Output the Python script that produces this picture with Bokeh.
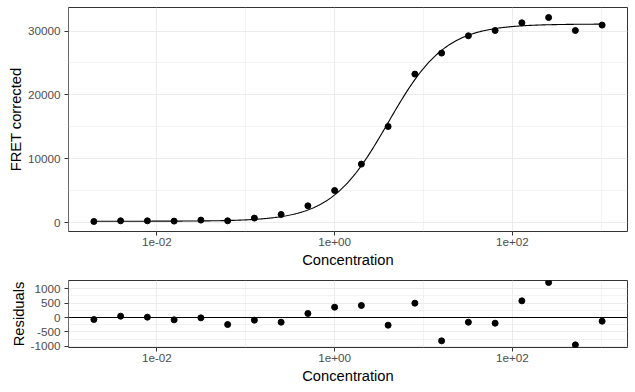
import numpy as np
from bokeh.plotting import figure
from bokeh.layouts import column
from bokeh.models import Range1d, FixedTicker, Span
from bokeh.embed import file_html
from bokeh.resources import INLINE

# ---- data ----
concentration = [0.001953125, 0.00390625, 0.0078125, 0.015625, 0.03125, 0.0625,
                 0.125, 0.25, 0.5, 1.0, 2.0, 4.0, 8.0, 16.0, 32.0, 64.0,
                 128.0, 256.0, 512.0, 1024.0]
fret_corrected = [157, 266, 266, 219, 376, 266, 689, 1254, 2617, 5014, 9151,
                  15043, 23254, 26545, 29255, 30086, 31292, 32123, 30086, 30933]
residuals = [-70, 47, 12, -81, -12, -244, -93, -163, 140, 360, 419, -267, 500,
             -814, -163, -198, 581, 1221, -953, -128]

# four-parameter logistic fit (estimated)
fit_bottom = 200.0
fit_top = 31100.0
fit_ec50 = 4.0
fit_hill = 1.35

x_ticks = [0.01, 1.0, 100.0]
x_tick_labels = ["1e-02", "1e+00", "1e+02"]
x_minor = [0.001, 0.1, 10.0, 1000.0]
top_y_ticks = [0, 10000, 20000, 30000]
top_y_tick_labels = ["0", "10000", "20000", "30000"]
top_y_minor = [5000, 15000, 25000]
res_y_ticks = [-1000, -500, 0, 500, 1000]
res_y_tick_labels = ["-1000", "-500", "0", "500", "1000"]
res_y_minor = [-750, -250, 250, 750]

FONT = "Liberation Sans"

curve_x = np.geomspace(min(concentration), max(concentration), 400)
curve_y = fit_bottom + (fit_top - fit_bottom) / (1.0 + (fit_ec50 / curve_x) ** fit_hill)


def style(p, yt, ytl, ym):
    xt = FixedTicker(ticks=x_ticks, minor_ticks=x_minor)
    yk = FixedTicker(ticks=yt, minor_ticks=ym)
    p.xaxis.ticker = xt
    p.xgrid.ticker = xt
    p.yaxis.ticker = yk
    p.ygrid.ticker = yk
    p.xaxis.major_label_overrides = dict(zip(x_ticks, x_tick_labels))
    p.yaxis.major_label_overrides = dict(zip(yt, ytl))
    for ax in p.axis:
        ax.axis_line_color = None
        ax.major_tick_line_color = "#333333"
        ax.major_tick_line_width = 1
        ax.major_tick_out = 4
        ax.major_tick_in = 0
        ax.minor_tick_line_color = None
        ax.major_label_text_font = FONT
        ax.major_label_text_font_size = "11.7px"
        ax.major_label_text_color = "#4D4D4D"
        ax.axis_label_text_font = FONT
        ax.axis_label_text_font_size = "14.7px"
        ax.axis_label_text_font_style = "normal"
        ax.axis_label_text_color = "black"
    p.xaxis.major_label_standoff = 2
    p.xaxis.axis_label_standoff = 3
    p.yaxis.major_label_standoff = 4
    p.yaxis.axis_label_standoff = 1
    for g in (p.xgrid, p.ygrid):
        g.grid_line_color = "#EBEBEB"
        g.grid_line_width = 1.1
        g.minor_grid_line_color = "#EBEBEB"
        g.minor_grid_line_width = 0.6
    p.outline_line_color = "#333333"
    p.outline_line_width = 1
    p.background_fill_color = "white"
    p.border_fill_color = "white"


x_range = Range1d(10 ** -2.995, 10 ** 3.296)

p1 = figure(width=628, height=272, x_axis_type="log",
            x_range=x_range, y_range=Range1d(-1410, 33690),
            output_backend="svg", toolbar_location=None,
            min_border_left=68, min_border_right=1, min_border_top=7,
            min_border_bottom=41,
            x_axis_label="Concentration", y_axis_label="FRET corrected")
style(p1, top_y_ticks, top_y_tick_labels, top_y_minor)
p1.line(curve_x, curve_y, line_color="black", line_width=1.1)
p1.scatter(concentration, fret_corrected, size=6, color="black")

p2 = figure(width=628, height=116, x_axis_type="log",
            x_range=x_range, y_range=Range1d(-1045, 1290),
            output_backend="svg", toolbar_location=None,
            min_border_left=66, min_border_right=1, min_border_top=8,
            min_border_bottom=41,
            x_axis_label="Concentration", y_axis_label="Residuals")
style(p2, res_y_ticks, res_y_tick_labels, res_y_minor)
p2.add_layout(Span(location=0, dimension="width", line_color="black",
                   line_width=1.1, level="underlay"))
p2.scatter(concentration, residuals, size=6, color="black")

layout = column(p1, p2, spacing=0)
open("out.html", "w").write(file_html(layout, INLINE))
